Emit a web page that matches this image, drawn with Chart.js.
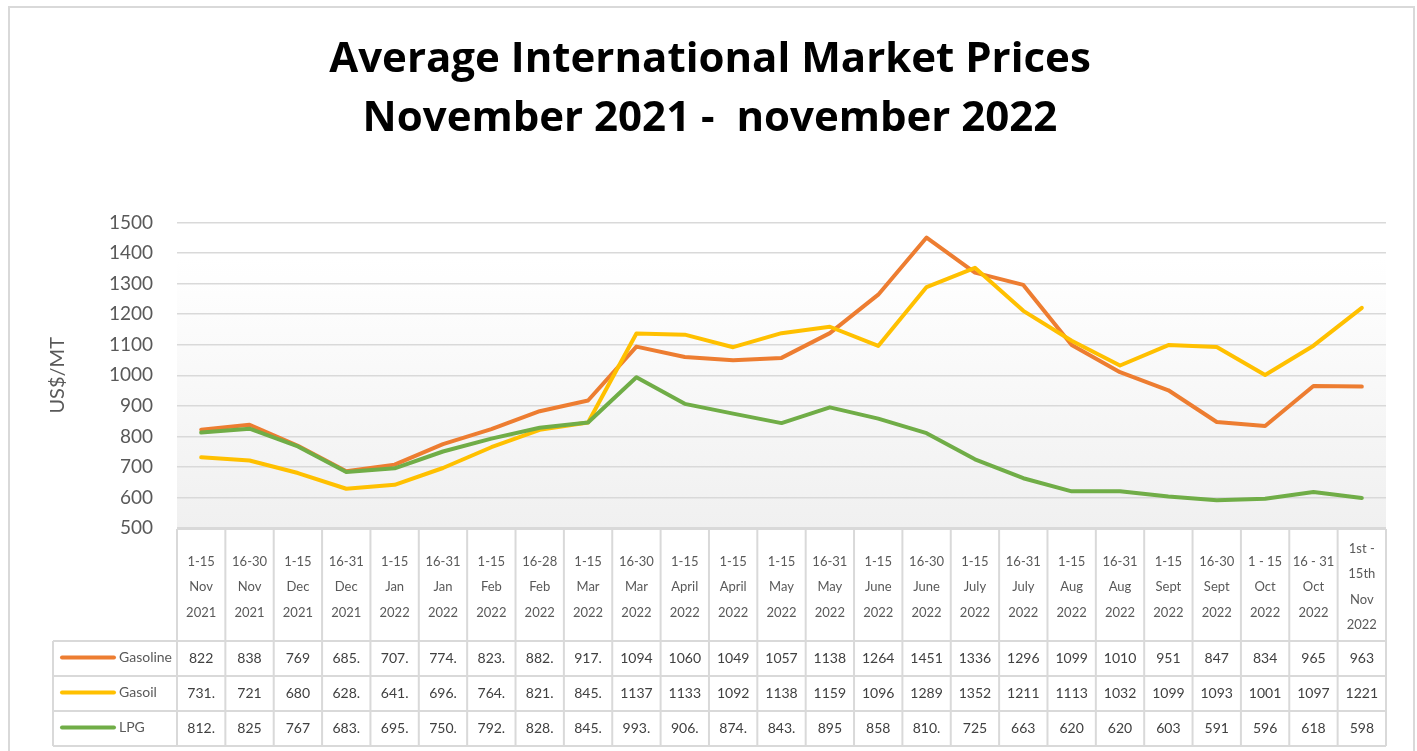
<!DOCTYPE html>
<html>
<head>
<meta charset="utf-8">
<script src="https://cdn.jsdelivr.net/npm/chart.js@4"></script>
<style>
  html, body { margin: 0; padding: 0; background: #fff; }
  #wrap { width: 1417px; height: 751px; position: relative; }
</style>
</head>
<body>
<div id="wrap"><canvas id="priceChart"></canvas></div>
<script>
// categories (fortnights) - each entry is the lines shown in the table header
var categories = [
  ["1-15", "Nov", "2021"], ["16-30", "Nov", "2021"], ["1-15", "Dec", "2021"], ["16-31", "Dec", "2021"],
  ["1-15", "Jan", "2022"], ["16-31", "Jan", "2022"], ["1-15", "Feb", "2022"], ["16-28", "Feb", "2022"],
  ["1-15", "Mar", "2022"], ["16-30", "Mar", "2022"], ["1-15", "April", "2022"], ["1-15", "April", "2022"],
  ["1-15", "May", "2022"], ["16-31", "May", "2022"], ["1-15", "June", "2022"], ["16-30", "June", "2022"],
  ["1-15", "July", "2022"], ["16-31", "July", "2022"], ["1-15", "Aug", "2022"], ["16-31", "Aug", "2022"],
  ["1-15", "Sept", "2022"], ["16-30", "Sept", "2022"], ["1 - 15", "Oct", "2022"], ["16 - 31", "Oct", "2022"],
  ["1st -", "15th", "Nov", "2022"]
];

// US$/MT, values with a fraction show truncated with a dot in the table
var gasoline = [822, 838, 769, 685.5, 707.5, 774.5, 823.5, 882.5, 917.5, 1094, 1060, 1049, 1057,
  1138, 1264, 1451, 1336, 1296, 1099, 1010, 951, 847, 834, 965, 963];
var gasoil = [731.5, 721, 680, 628.5, 641.5, 696.5, 764.5, 821.5, 845.5, 1137, 1133, 1092, 1138,
  1159, 1096, 1289, 1352, 1211, 1113, 1032, 1099, 1093, 1001, 1097, 1221];
var lpg = [812.5, 825, 767, 683.5, 695.5, 750.5, 792.5, 828.5, 845.5, 993.5, 906.5, 874.5, 843.5,
  895, 858, 810.5, 725, 663, 620, 620, 603, 591, 596, 618, 598];

var seriesNames = ["Gasoline", "Gasoil", "LPG"];
var seriesColors = ["#ED7D31", "#FFC000", "#70AD47"];
var yMin = 500, yMax = 1500, yStep = 100;

var FONT = "Lato, 'Open Sans', sans-serif";
var GRID = "#d9d9d9";
var TEXT = "#595959";

function cellText(v) {
  return Number.isInteger(v) ? String(v) : Math.floor(v) + ".";
}

// frame + plot area gradient
var backdrop = {
  id: "backdrop",
  beforeDraw: function(chart) {
    var c = chart.ctx, a = chart.chartArea;
    c.save();
    c.fillStyle = "#fff";
    c.fillRect(0, 0, chart.width, chart.height);
    var g = c.createLinearGradient(0, a.top, 0, a.bottom);
    g.addColorStop(0, "#ffffff");
    g.addColorStop(0.12, "#ffffff");
    g.addColorStop(1, "#f0f0f0");
    c.fillStyle = g;
    c.fillRect(a.left, a.top, a.right - a.left, a.bottom - a.top + 1);
    c.strokeStyle = GRID;
    c.lineWidth = 2;
    c.strokeRect(9, 7, 1405, 770);
    c.restore();
  }
};

// data table under the plot, columns taken from the x scale
var dataTable = {
  id: "dataTable",
  afterDraw: function(chart) {
    var c = chart.ctx, a = chart.chartArea, x = chart.scales.x;
    var n = categories.length;
    var colW = x.getPixelForValue(1) - x.getPixelForValue(0);
    var left = x.getPixelForValue(0) - colW / 2;
    var right = x.getPixelForValue(n - 1) + colW / 2;
    var headTop = a.bottom + 1, headBot = headTop + 112, rowH = 35;
    var tableBot = headBot + rowH * 3;
    var legLeft = 53;

    c.save();
    c.strokeStyle = GRID;
    c.lineWidth = 2;
    c.beginPath();
    c.moveTo(left, headTop); c.lineTo(right, headTop);
    for (var r = 0; r <= 3; r++) {
      c.moveTo(legLeft, headBot + r * rowH); c.lineTo(right, headBot + r * rowH);
    }
    for (var i = 0; i <= n; i++) {
      var bx = left + i * colW;
      c.moveTo(bx, headTop); c.lineTo(bx, tableBot);
    }
    c.moveTo(legLeft, headBot); c.lineTo(legLeft, tableBot);
    c.stroke();

    c.fillStyle = TEXT;
    c.textAlign = "center";
    c.textBaseline = "middle";
    c.font = "13px " + FONT;
    var lh = 25.5, mid = (headTop + headBot) / 2 + 2;
    categories.forEach(function(lines, i) {
      var cx = x.getPixelForValue(i);
      var y0 = mid - (lines.length - 1) * lh / 2;
      lines.forEach(function(t, k) { c.fillText(t, cx, y0 + k * lh); });
    });

    var series = [gasoline, gasoil, lpg];
    c.font = "14px " + FONT;
    series.forEach(function(vals, r) {
      var cy = headBot + r * rowH + rowH / 2;
      vals.forEach(function(v, i) {
        c.fillStyle = "#404040";
        c.textAlign = "center";
        c.fillText(cellText(v), x.getPixelForValue(i), cy);
      });
      c.strokeStyle = seriesColors[r];
      c.lineWidth = 4;
      c.lineCap = "round";
      c.beginPath();
      c.moveTo(62, cy - 1); c.lineTo(114, cy - 1);
      c.stroke();
      c.fillStyle = TEXT;
      c.textAlign = "left";
      c.fillText(seriesNames[r], 119, cy - 1);
    });
    c.restore();
  }
};

var ctx = document.getElementById("priceChart").getContext("2d");
var priceChart = new Chart(ctx, {
  type: "line",
  data: {
    labels: categories,
    datasets: [
      { label: seriesNames[0], data: gasoline, borderColor: seriesColors[0], order: 3 },
      { label: seriesNames[1], data: gasoil, borderColor: seriesColors[1], order: 2 },
      { label: seriesNames[2], data: lpg, borderColor: seriesColors[2], order: 1 }
    ]
  },
  options: {
    responsive: true,
    maintainAspectRatio: false,
    animation: false,
    layout: { padding: { top: 0, left: 34, right: 31, bottom: 223 } },
    elements: {
      line: { borderWidth: 4, tension: 0, borderCapStyle: "round", borderJoinStyle: "round" },
      point: { radius: 0, hoverRadius: 0 }
    },
    plugins: {
      legend: { display: false },
      tooltip: { enabled: false },
      title: {
        display: true,
        text: ["Average International Market Prices", "November 2021 -  november 2022"],
        color: "#000",
        font: { family: "'Open Sans', Lato, sans-serif", size: 42, weight: "bold", lineHeight: 1.4 },
        padding: { top: 31, bottom: 74 }
      }
    },
    scales: {
      x: { display: false, offset: true },
      y: {
        min: yMin,
        max: yMax,
        afterFit: function(scale) { scale.width = 143; },
        ticks: {
          stepSize: yStep, padding: 24, color: TEXT, font: { family: FONT, size: 19 },
          callback: function(v) { return String(v); }
        },
        grid: { color: GRID, lineWidth: 1.5, drawTicks: false },
        border: { display: false },
        title: {
          display: true,
          text: "US$/MT",
          color: TEXT,
          font: { family: FONT, size: 20 },
          padding: { top: 12, bottom: 0 }
        }
      }
    }
  },
  plugins: [backdrop, dataTable]
});
</script>
</body>
</html>
